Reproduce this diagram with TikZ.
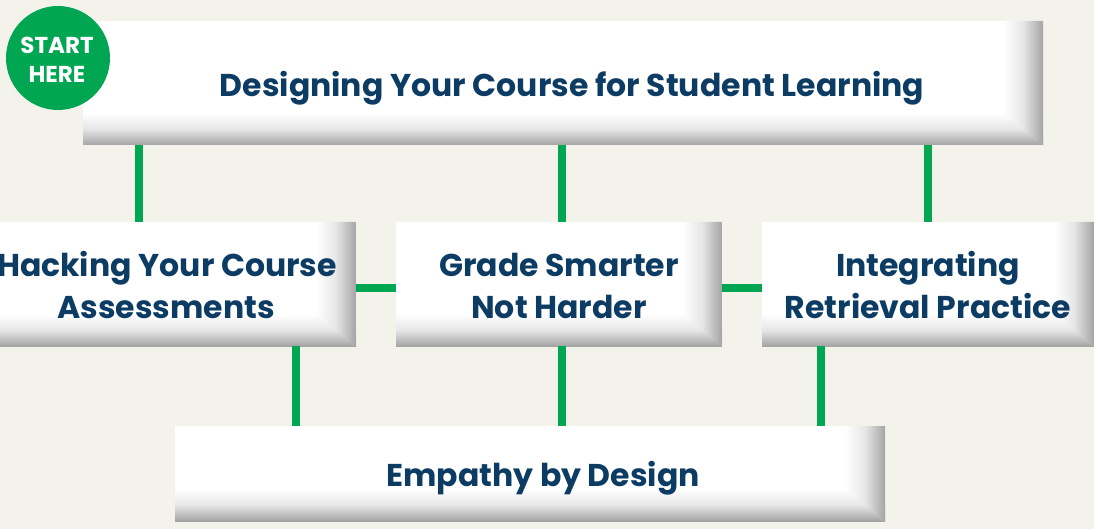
\documentclass[tikz,border=0pt]{standalone}
\usepackage{fontspec}
\setmainfont{Poppins}
\definecolor{bg}{HTML}{F3F3EC}
\definecolor{navy}{HTML}{0C3C64}
\definecolor{grn}{HTML}{00A651}
\definecolor{shd}{HTML}{A4A4A4}
\definecolor{shm}{HTML}{E6E6E6}
\tikzset{
  box/.style={rectangle, fill=white, inner sep=0pt,
    path picture={
      \path (path picture bounding box.south east) coordinate (se)
            (path picture bounding box.north east) coordinate (ne)
            (path picture bounding box.south west) coordinate (sw);
      \shade[top color=white, bottom color=shd, middle color=shm] ([yshift=32pt]sw) rectangle (se);
      \shade[left color=white, right color=shd, middle color=shm] (ne) -- ([xshift=-40pt]ne) -- ([xshift=-40pt,yshift=32pt]se) -- (se) -- cycle;
    }},
  lbl/.style={text=navy, inner sep=0pt, anchor=base, font=\bfseries\fontsize{31.5}{40}\selectfont},
  conn/.style={draw=grn, line width=8pt},
  startc/.style={circle, fill=grn, inner sep=0pt, minimum size=104pt},
  slbl/.style={text=white, inner sep=0pt, anchor=base, font=\bfseries\fontsize{23}{29}\selectfont}
}
\begin{document}
\begin{tikzpicture}[x=1pt, y=-1pt]
\fill[bg] (0,0) rectangle (1094,529);
\useasboundingbox (0,0) rectangle (1094,529);
% boxes
\node[box, minimum width=960pt, minimum height=124pt] (top) at (563,83) {};
\node[lbl] (toptxt) at (572,97) {Designing Your Course for Student Learning};
\node[box, minimum width=380pt, minimum height=124pt] (left) at (166,284) {};
\node[lbl] (lt1) at (167,276.5) {Hacking Your Course};
\node[lbl] (lt2) at (166,318.5) {Assessments};
\node[box, minimum width=326pt, minimum height=124pt] (mid) at (559,284) {};
\node[lbl] (mt1) at (559,276.5) {Grade Smarter};
\node[lbl] (mt2) at (559,318.5) {Not Harder};
\node[box, minimum width=332pt, minimum height=124pt] (right) at (928,284) {};
\node[lbl] (rt1) at (928,276.5) {Integrating};
\node[lbl] (rt2) at (928,318.5) {Retrieval Practice};
\node[box, minimum width=710pt, minimum height=95pt] (bot) at (530,473.5) {};
\node[lbl] (bt) at (543,486.5) {Empathy by Design};
% connectors
\coordinate (c1) at (139,0);
\coordinate (c2) at (562,0);
\coordinate (c3) at (928,0);
\coordinate (d1) at (296,0);
\coordinate (d3) at (821,0);
\coordinate (h) at (0,288);
\draw[conn] (top.south -| c1) -- (left.north -| c1);
\draw[conn] (top.south -| c2) -- (mid.north -| c2);
\draw[conn] (top.south -| c3) -- (right.north -| c3);
\draw[conn] (left.east |- h) -- (mid.west |- h);
\draw[conn] (mid.east |- h) -- (right.west |- h);
\draw[conn] (left.south -| d1) -- (bot.north -| d1);
\draw[conn] (mid.south -| c2) -- (bot.north -| c2);
\draw[conn] (right.south -| d3) -- (bot.north -| d3);
% start
\node[startc] (start) at (58,58) {};
\node[slbl] (s1) at (57,54) {START};
\node[slbl] (s2) at (57,83) {HERE};
\end{tikzpicture}
\end{document}
